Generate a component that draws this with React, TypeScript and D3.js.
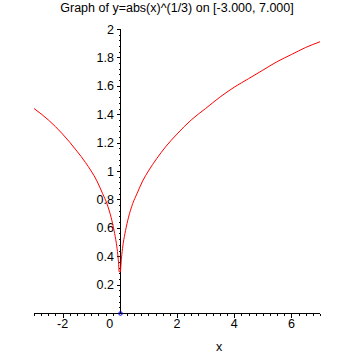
import React from "react";
import * as d3 from "d3";

const curveX = [-3, -2.5, -2, -1.5, -1.2, -1, -0.8, -0.6, -0.45, -0.3, -0.2, -0.12, -0.07, -0.04, -0.024, 0.024, 0.04, 0.07, 0.12, 0.2, 0.3, 0.45, 0.6, 0.8, 1, 1.3, 1.6, 2, 2.5, 3, 3.5, 4, 4.5, 5, 5.5, 6, 6.5, 7];
const curveY = [1.44, 1.36, 1.26, 1.14, 1.06, 1.0, 0.93, 0.84, 0.77, 0.67, 0.58, 0.49, 0.41, 0.34, 0.29, 0.29, 0.34, 0.41, 0.49, 0.58, 0.67, 0.77, 0.84, 0.93, 1.0, 1.09, 1.17, 1.26, 1.36, 1.44, 1.52, 1.59, 1.65, 1.71, 1.77, 1.82, 1.87, 1.91];
const xTickLabels = [-2, 0, 2, 4, 6];
const yTickLabels = [0.2, 0.4, 0.6, 0.8, 1, 1.2, 1.4, 1.6, 1.8, 2];
const title = "Graph of y=abs(x)^(1/3) on [-3.000, 7.000]";
const xLabel = "x";

export default function App() {
  const W = 355, H = 355;
  const x = d3.scaleLinear().domain([-3, 7]).range([34, 320]);
  const y = d3.scaleLinear().domain([0, 2]).range([313, 29]);
  const left: [number, number][] = [];
  const right: [number, number][] = [];
  curveX.forEach((v, i) => (v < 0 ? left : right).push([v, curveY[i]]));
  const line = d3.line<[number, number]>().x(d => x(d[0])).y(d => y(d[1])).curve(d3.curveMonotoneX);
  const bridge = d3.line<[number, number]>().x(d => x(d[0])).y(d => y(d[1]));
  const x0 = Math.round(x(0)) + 0.5;
  const y0 = Math.round(y(0)) + 0.5;
  const xMinor = d3.range(-3, 7.001, 0.25).filter(v => Math.abs(v / 2 - Math.round(v / 2)) > 1e-6);
  const yMinor = d3.range(0.04, 2.0001, 0.04).filter(v => Math.abs(v / 0.2 - Math.round(v / 0.2)) > 1e-6);
  const font = "'Liberation Sans', Arial, sans-serif";
  return (
    <svg width={W} height={H} style={{ position: "absolute", left: 0, top: 0, background: "#fff" }}>
      <rect x={0} y={0} width={W} height={H} fill="#fff" />
      <text x={177} y={12} textAnchor="middle" fontFamily={font} fontSize={12.5} fill="#000">{title}</text>
      <g shapeRendering="crispEdges">
        <line x1={x(-3)} x2={x(7)} y1={y0} y2={y0} stroke="#000" strokeWidth={1} />
        <line x1={x0} x2={x0} y1={y(0)} y2={y(2)} stroke="#000" strokeWidth={1} />
        {xMinor.map((v, i) => (
          <line key={"xm" + i} x1={Math.round(x(v)) + 0.5} x2={Math.round(x(v)) + 0.5} y1={y0} y2={y0 + 2} stroke="#000" />
        ))}
        {xTickLabels.filter(v => v !== 0).map((v, i) => (
          <line key={"xM" + i} x1={Math.round(x(v)) + 0.5} x2={Math.round(x(v)) + 0.5} y1={y0} y2={y0 + 4} stroke="#000" />
        ))}
        {yMinor.map((v, i) => (
          <line key={"ym" + i} x1={x0 - 2} x2={x0} y1={Math.round(y(v)) + 0.5} y2={Math.round(y(v)) + 0.5} stroke="#000" />
        ))}
        {yTickLabels.map((v, i) => (
          <line key={"yM" + i} x1={x0 - 4} x2={x0} y1={Math.round(y(v)) + 0.5} y2={Math.round(y(v)) + 0.5} stroke="#000" />
        ))}
      </g>
      {xTickLabels.map((v, i) => (
        <text key={"xl" + i} x={v === 0 ? x(v) - 10 : x(v)} y={328} textAnchor="middle" fontFamily={font} fontSize={12.5} fill="#000">{String(v)}</text>
      ))}
      {yTickLabels.map((v, i) => (
        <text key={"yl" + i} x={114} y={y(v) + 4.5} textAnchor="end" fontFamily={font} fontSize={12.5} fill="#000">{String(v)}</text>
      ))}
      <text x={219} y={351} textAnchor="middle" fontFamily={font} fontSize={12.5} fill="#000">{xLabel}</text>
      <path d={line(left) || ""} fill="none" stroke="#ff0000" strokeWidth={1} />
      <path d={bridge([left[left.length - 1], right[0]]) || ""} fill="none" stroke="#ff0000" strokeWidth={1} />
      <path d={line(right) || ""} fill="none" stroke="#ff0000" strokeWidth={1} />
      <circle cx={x0} cy={y0} r={1.8} fill="none" stroke="#0000ff" strokeWidth={1} />
    </svg>
  );
}
